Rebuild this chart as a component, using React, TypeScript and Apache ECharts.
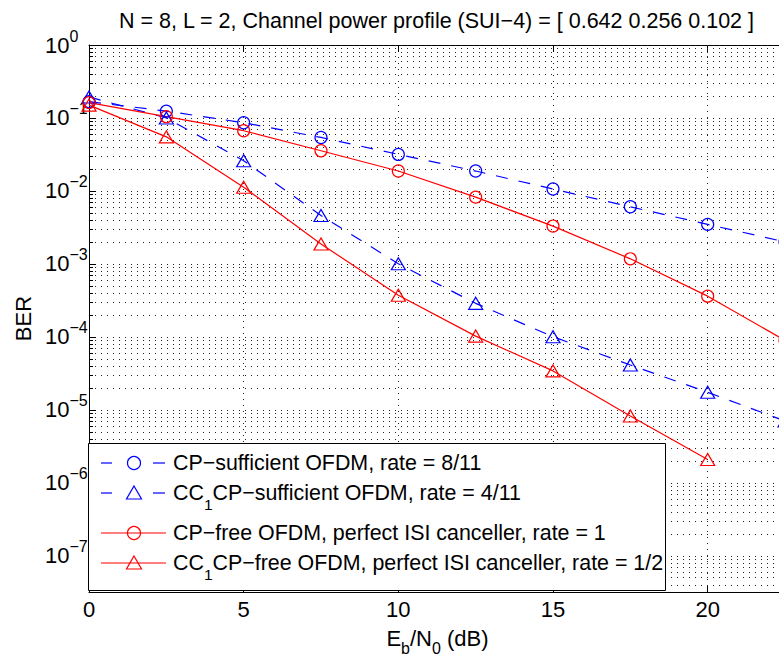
import React, { useEffect, useRef } from 'react';
import * as echarts from 'echarts';

// ---- data ----
const snrDb = [0, 2.5, 5, 7.5, 10, 12.5, 15, 17.5, 20, 22.5];
const cpSufficient = [0.167, 0.124, 0.086, 0.054, 0.0316, 0.0187, 0.0106, 0.00605, 0.00347, 0.002];
const cc1CpSufficient = [0.194, 0.1, 0.0259, 0.0046, 0.001, 0.000287, 0.0001, 4.1e-5, 1.73e-5, 7.0e-6];
const cpFree = [0.162, 0.104, 0.0668, 0.0355, 0.0187, 0.0082, 0.00329, 0.00117, 3.6e-4, 8.9e-5];
const cc1CpFree = [0.15, 0.055, 0.0112, 0.00187, 3.7e-4, 1.02e-4, 3.4e-5, 8.2e-6, 2.07e-6];

const xTicks = [0, 5, 10, 15, 20];
const decadeExponents = [-8, -7, -6, -5, -4, -3, -2, -1, 0];
const minorMultipliers = [1, 2, 3, 4, 5, 6, 7, 8, 9];

const xMin = 0;
const xMax = 22.5;
const yMin = Math.pow(10, -7.5);
const yMax = 1;

const titleText = 'N = 8, L = 2, Channel power profile (SUI\u22124) = [ 0.642 0.256 0.102 ]';
const legendRows = [
  { pre: '', sub: '', text: 'CP\u2212sufficient OFDM, rate = 8/11', color: '#0000ff', dashed: true, marker: 'circle' },
  { pre: 'CC', sub: '1', text: 'CP\u2212sufficient OFDM, rate = 4/11', color: '#0000ff', dashed: true, marker: 'triangle' },
  { pre: '', sub: '', text: 'CP\u2212free OFDM, perfect ISI canceller, rate = 1', color: '#ff0000', dashed: false, marker: 'circle' },
  { pre: 'CC', sub: '1', text: 'CP\u2212free OFDM, perfect ISI canceller, rate = 1/2', color: '#ff0000', dashed: false, marker: 'triangle' },
];
// x-axis name pieces: [text, isSubscript]
const xNameParts: [string, boolean][] = [
  ['E', false],
  ['b', true],
  ['/N', false],
  ['0', true],
  [' (dB)', false],
];

const FONT = "'Liberation Sans', Arial, Helvetica, sans-serif";

let measureCtx: CanvasRenderingContext2D | null = null;
function textWidth(t: string, size: number) {
  if (!measureCtx) measureCtx = document.createElement('canvas').getContext('2d');
  if (!measureCtx) return t.length * size * 0.55;
  measureCtx.font = `${size}px 'Liberation Sans', Arial, sans-serif`;
  return measureCtx.measureText(t).width;
}

function txt(x: number, y: number, text: string, size: number, extra: any = {}) {
  return {
    type: 'text',
    x,
    y,
    z: 103,
    style: { text, fontSize: size, fontFamily: FONT, fill: '#000', textAlign: 'left', textVerticalAlign: 'middle', ...extra },
  };
}

export default function App() {
  const ref = useRef<HTMLDivElement>(null);

  useEffect(() => {
    if (!ref.current) return;
    const chart = echarts.init(ref.current, undefined, { renderer: 'svg' });

    const gridVals: number[][] = [];
    decadeExponents.forEach((e) => {
      minorMultipliers.forEach((k) => {
        const v = k * Math.pow(10, e);
        if (v >= yMin * 0.999 && v <= yMax * 1.0001) gridVals.push([xMin, v, k === 1 ? 1 : 0]);
      });
    });

    const pairs = (ys: number[]) => ys.map((y, i) => [snrDb[i], y]);

    const lineSeries = (name: string, ys: number[], color: string, dashed: boolean, marker: string) => ({
      name,
      type: 'line',
      data: pairs(ys),
      symbol: marker,
      symbolSize: marker === 'circle' ? 12 : [14, 12],
      showAllSymbol: true,
      clip: false,
      lineStyle: { color, width: 1.2, type: dashed ? [12, 11] : 'solid' },
      itemStyle: { color: 'rgba(0,0,0,0)', borderColor: color, borderWidth: 1.2 },
      z: 5,
    });

    // legend graphic
    const LF = 21.4;
    const SF = 15.5;
    const lgX = 88.5, lgY = 443.5, lgW = 577, lgH = 147;
    const rowYs = [463, 493, 533, 563];
    const legendEls: any[] = [
      { type: 'rect', shape: { x: lgX, y: lgY, width: lgW, height: lgH }, style: { fill: '#fff', stroke: '#000', lineWidth: 1 }, z: 100 },
    ];
    legendRows.forEach((r, i) => {
      const y = rowYs[i];
      if (r.dashed) {
        legendEls.push({ type: 'line', shape: { x1: 101, y1: y, x2: 112, y2: y }, style: { stroke: r.color, lineWidth: 1.2 }, z: 101 });
        legendEls.push({ type: 'line', shape: { x1: 153, y1: y, x2: 165, y2: y }, style: { stroke: r.color, lineWidth: 1.2 }, z: 101 });
      } else {
        legendEls.push({ type: 'line', shape: { x1: 101, y1: y, x2: 166, y2: y }, style: { stroke: r.color, lineWidth: 1.2 }, z: 101 });
      }
      if (r.marker === 'circle') {
        legendEls.push({ type: 'circle', shape: { cx: 134, cy: y, r: 6.5 }, style: { fill: 'none', stroke: r.color, lineWidth: 1.2 }, z: 102 });
      } else {
        legendEls.push({
          type: 'polygon',
          shape: { points: [[134, y - 7], [141.5, y + 6], [126.5, y + 6]] },
          style: { fill: 'none', stroke: r.color, lineWidth: 1.2 },
          z: 102,
        });
      }
      let x = 173;
      if (r.pre) {
        legendEls.push(txt(x, y, r.pre, LF));
        x += textWidth(r.pre, LF);
        legendEls.push(txt(x, y + 11, r.sub, SF));
        x += textWidth(r.sub, SF);
      }
      legendEls.push(txt(x, y, r.text, LF));
    });

    // x-axis name with subscripts
    const NF = 22;
    const NSF = 16;
    const nameW = xNameParts.reduce((s, [t, sub]) => s + textWidth(t, sub ? NSF : NF), 0);
    let nx = 437.5 - nameW / 2;
    const nameEls: any[] = [];
    xNameParts.forEach(([t, sub]) => {
      nameEls.push(txt(nx, sub ? 648 : 638, t, sub ? NSF : NF));
      nx += textWidth(t, sub ? NSF : NF);
    });

    const option: any = {
      animation: false,
      backgroundColor: '#fff',
      textStyle: { fontFamily: FONT },
      grid: { left: 89, top: 45, width: 696, height: 547, show: false },
      xAxis: [
        {
          type: 'value',
          min: xMin,
          max: xMax,
          interval: 5,
          axisLine: { show: true, onZero: false, lineStyle: { color: '#000', width: 1 } },
          axisTick: { show: true, inside: true, length: 7, lineStyle: { color: '#000' } },
          axisLabel: { show: true, color: '#000', fontSize: 22, fontFamily: FONT, margin: 6, showMaxLabel: false },
          splitLine: { show: true, lineStyle: { color: '#222', width: 1, type: [1, 5] } },
        },
        {
          type: 'value',
          position: 'top',
          min: xMin,
          max: xMax,
          interval: 5,
          axisLine: { show: true, onZero: false, lineStyle: { color: '#000', width: 1 } },
          axisTick: { show: true, inside: true, length: 7, lineStyle: { color: '#000' } },
          axisLabel: { show: false },
          splitLine: { show: false },
        },
      ],
      yAxis: {
        type: 'log',
        logBase: 10,
        min: yMin,
        max: yMax,
        name: 'BER',
        nameLocation: 'middle',
        nameGap: 53,
        nameTextStyle: { color: '#000', fontSize: 22, fontFamily: FONT },
        axisLine: { show: true, onZero: false, lineStyle: { color: '#000', width: 1 } },
        axisTick: { show: false },
        splitLine: { show: false },
        axisLabel: {
          show: true,
          align: 'left',
          margin: 44,
          showMinLabel: false,
          formatter: (v: number) => {
            const e = Math.round(Math.log10(v));
            return `{b|10}{s|${e < 0 ? '\u2212' + -e : e}}`;
          },
          rich: {
            b: { fontSize: 22, fontFamily: FONT, lineHeight: 22, verticalAlign: 'bottom', color: '#000' },
            s: { fontSize: 16, fontFamily: FONT, lineHeight: 16, padding: [0, 0, 12, 0], verticalAlign: 'bottom', color: '#000' },
          },
        },
      },
      series: [
        {
          type: 'custom',
          name: 'grid',
          data: gridVals,
          silent: true,
          z: 1,
          renderItem: (params: any, api: any) => {
            const v = api.value(1);
            const major = api.value(2) === 1;
            const p0 = api.coord([xMin, v]);
            const p1 = api.coord([xMax, v]);
            const yy = Math.round(p0[1]) + 0.5;
            const children: any[] = [
              { type: 'line', shape: { x1: p0[0], y1: yy, x2: p1[0], y2: yy }, style: { stroke: '#222', lineWidth: 1, lineDash: [1, 5] } },
              { type: 'line', shape: { x1: p0[0], y1: yy, x2: p0[0] + (major ? 7 : 4), y2: yy }, style: { stroke: '#000', lineWidth: 1 } },
            ];
            return { type: 'group', children };
          },
        },
        lineSeries('CP-sufficient OFDM', cpSufficient, '#0000ff', true, 'circle'),
        lineSeries('CC1CP-sufficient OFDM', cc1CpSufficient, '#0000ff', true, 'triangle'),
        lineSeries('CP-free OFDM', cpFree, '#ff0000', false, 'circle'),
        lineSeries('CC1CP-free OFDM', cc1CpFree, '#ff0000', false, 'triangle'),
      ],
      graphic: [
        {
          type: 'text',
          x: 436.5,
          y: 21,
          style: { text: titleText, fontSize: 21.5, fontFamily: FONT, fill: '#000', textAlign: 'center', textVerticalAlign: 'middle' },
          z: 100,
        },
        ...nameEls,
        ...legendEls,
      ],
    };

    chart.setOption(option);
    return () => chart.dispose();
  }, []);

  return (
    <div style={{ position: 'absolute', left: 0, top: 0, width: 779, height: 655, overflow: 'hidden', background: '#fff' }}>
      <div ref={ref} style={{ width: 800, height: 655 }} />
    </div>
  );
}
